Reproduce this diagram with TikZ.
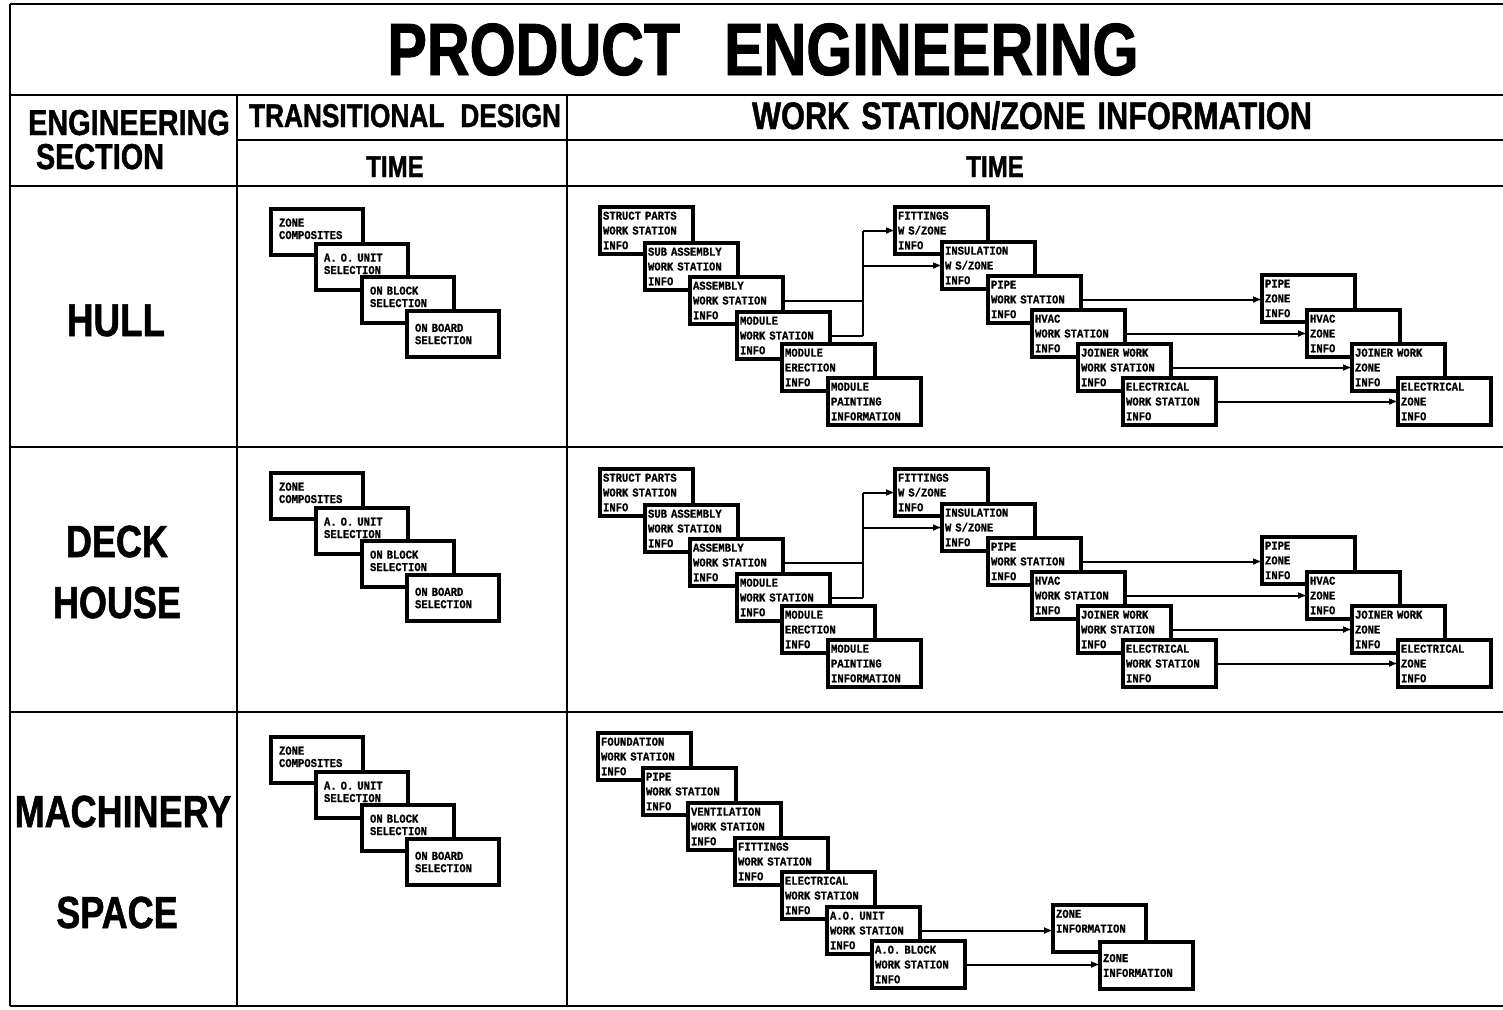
\documentclass[tikz,border=0pt]{standalone}
\usepackage{fontspec}
\setmainfont{Liberation Sans}
\newfontfamily\hdrfont[FakeStretch=0.8,FakeBold=1.2]{Liberation Sans}
\newfontfamily\boxfont[FakeStretch=0.88,FakeBold=0.6]{Liberation Mono}
\newcommand{\tbxtext}[1]{#1\\[-3pt]\mbox{}}
\usetikzlibrary{arrows.meta}
\begin{document}
\begin{tikzpicture}[x=0.5pt,y=-0.5pt,
  tline/.style={line width=1.4pt},
  hdr/.style={font=\hdrfont\bfseries, anchor=base, inner sep=0pt},
  wbox/.style={draw, line width=1.8pt, fill=white, anchor=north west, outer sep=0pt,
    minimum width=46.5pt, minimum height=23.5pt, inner xsep=1.5pt, inner ysep=1pt,
    text width=43.5pt, align=left, font=\boxfont\bfseries\fontsize{6}{7.4}\selectfont},
  tbox/.style={draw, line width=1.8pt, fill=white, anchor=north west, outer sep=0pt,
    minimum width=46pt, minimum height=23pt, inner xsep=4pt, inner ysep=1pt,
    text width=38pt, align=left, font=\boxfont\bfseries\fontsize{6}{6.2}\selectfont},
  conn/.style={line width=1pt},
  arr/.style={line width=1pt, -{Latex[length=4.5pt,width=3.5pt]}}
]
\useasboundingbox (0,0) rectangle (1503,1009);
\fill[white] (0,0) rectangle (1503,1009);

% table frame
\draw[tline] (10,4) -- (1503,4);
\draw[tline] (10,95) -- (1503,95);
\draw[tline] (237,140) -- (1503,140);
\draw[tline] (10,186) -- (1503,186);
\draw[tline] (10,447) -- (1503,447);
\draw[tline] (10,712) -- (1503,712);
\draw[tline] (10,1006) -- (1503,1006);
\draw[tline] (10,4) -- (10,1006);
\draw[tline] (237,95) -- (237,1006);
\draw[tline] (567,95) -- (567,1006);

% headings
\node[hdr, font=\hdrfont\bfseries\fontsize{37}{37}\selectfont] (title) at (763,75) {PRODUCT\hspace{22pt}ENGINEERING};
\node[hdr, font=\hdrfont\bfseries\fontsize{18}{18}\selectfont] (hEng) at (129,135) {ENGINEERING};
\node[hdr, font=\hdrfont\bfseries\fontsize{18}{18}\selectfont] (hSec) at (100,169) {SECTION};
\node[hdr, font=\hdrfont\bfseries\fontsize{16.4}{16.4}\selectfont] (hTD) at (405,127) {TRANSITIONAL\hspace{8pt}DESIGN};
\node[hdr, font=\hdrfont\bfseries\fontsize{19.2}{19.2}\selectfont] (hWS) at (1032,129) {WORK\hspace{6pt}STATION/ZONE\hspace{6pt}INFORMATION};
\node[hdr, font=\hdrfont\bfseries\fontsize{15}{15}\selectfont] (hT1) at (395,177) {TIME};
\node[hdr, font=\hdrfont\bfseries\fontsize{15}{15}\selectfont] (hT2) at (995,177) {TIME};

% row labels
\node[hdr, font=\hdrfont\bfseries\fontsize{23}{23}\selectfont] (lHull) at (116,336) {HULL};
\node[hdr, font=\hdrfont\bfseries\fontsize{22.5}{22.5}\selectfont] (lDeck) at (117,557) {DECK};
\node[hdr, font=\hdrfont\bfseries\fontsize{22.5}{22.5}\selectfont] (lHouse) at (117,618) {HOUSE};
\node[hdr, font=\hdrfont\bfseries\fontsize{22.5}{22.5}\selectfont] (lMach) at (123,827) {MACHINERY};
\node[hdr, font=\hdrfont\bfseries\fontsize{22.5}{22.5}\selectfont] (lSpace) at (117,928) {SPACE};

% ===== HULL =====
\node[tbox] (hZC) at (271,209) {\tbxtext{ZONE\\COMPOSITES}};
\node[tbox] (hAU) at (316,244) {\tbxtext{A. O. UNIT\\SELECTION}};
\node[tbox] (hOBk) at (362,277) {\tbxtext{ON BLOCK\\SELECTION}};
\node[tbox] (hOBd) at (407,311) {ON BOARD\\SELECTION};

\node[wbox] (hSP) at (600,207) {STRUCT PARTS\\WORK STATION\\INFO};
\node[wbox] (hSA) at (645,243) {SUB ASSEMBLY\\WORK STATION\\INFO};
\node[wbox] (hAS) at (690,277) {ASSEMBLY\\WORK STATION\\INFO};
\node[wbox] (hMW) at (737,312) {MODULE\\WORK STATION\\INFO};
\node[wbox] (hME) at (782,344) {MODULE\\ERECTION\\INFO};
\node[wbox] (hMP) at (828,378) {MODULE\\PAINTING\\INFORMATION};

\node[wbox] (hFI) at (895,207) {FITTINGS\\W S/ZONE\\INFO};
\node[wbox] (hIN) at (942,242) {INSULATION\\W S/ZONE\\INFO};
\node[wbox] (hPW) at (988,276) {PIPE\\WORK  STATION\\INFO};
\node[wbox] (hHW) at (1032,310) {HVAC\\WORK  STATION\\INFO};
\node[wbox] (hJW) at (1078,344) {JOINER WORK\\WORK STATION\\INFO};
\node[wbox] (hEW) at (1123,378) {ELECTRICAL\\WORK STATION\\INFO};

\node[wbox] (hPZ) at (1262,275) {PIPE\\ZONE\\INFO};
\node[wbox] (hHZ) at (1307,310) {HVAC\\ZONE\\INFO};
\node[wbox] (hJZ) at (1352,344) {JOINER WORK\\ZONE\\INFO};
\node[wbox] (hEZ) at (1398,378) {ELECTRICAL\\ZONE\\INFO};

\coordinate (hBus) at (863,300);
\draw[conn] (hAS.east) -- (hAS.east -| hBus);
\draw[conn] (hMW.east) -- (hMW.east -| hBus);
\draw[conn] (hFI.west -| hBus) -- (hMW.east -| hBus);
\draw[arr] (hFI.west -| hBus) -- (hFI.west);
\draw[arr] (hIN.west -| hBus) -- (hIN.west);
\draw[arr] (hPW.east) -- (hPW.east -| hPZ.west);
\draw[arr] (hHW.east) -- (hHW.east -| hHZ.west);
\draw[arr] (hJW.east) -- (hJW.east -| hJZ.west);
\draw[arr] (hEW.east) -- (hEW.east -| hEZ.west);

% ===== DECK HOUSE =====
\node[tbox] (dZC) at (271,473) {\tbxtext{ZONE\\COMPOSITES}};
\node[tbox] (dAU) at (316,508) {\tbxtext{A. O. UNIT\\SELECTION}};
\node[tbox] (dOBk) at (362,541) {\tbxtext{ON BLOCK\\SELECTION}};
\node[tbox] (dOBd) at (407,575) {ON BOARD\\SELECTION};

\node[wbox] (dSP) at (600,469) {STRUCT PARTS\\WORK STATION\\INFO};
\node[wbox] (dSA) at (645,505) {SUB ASSEMBLY\\WORK STATION\\INFO};
\node[wbox] (dAS) at (690,539) {ASSEMBLY\\WORK STATION\\INFO};
\node[wbox] (dMW) at (737,574) {MODULE\\WORK STATION\\INFO};
\node[wbox] (dME) at (782,606) {MODULE\\ERECTION\\INFO};
\node[wbox] (dMP) at (828,640) {MODULE\\PAINTING\\INFORMATION};

\node[wbox] (dFI) at (895,469) {FITTINGS\\W S/ZONE\\INFO};
\node[wbox] (dIN) at (942,504) {INSULATION\\W S/ZONE\\INFO};
\node[wbox] (dPW) at (988,538) {PIPE\\WORK  STATION\\INFO};
\node[wbox] (dHW) at (1032,572) {HVAC\\WORK  STATION\\INFO};
\node[wbox] (dJW) at (1078,606) {JOINER WORK\\WORK STATION\\INFO};
\node[wbox] (dEW) at (1123,640) {ELECTRICAL\\WORK STATION\\INFO};

\node[wbox] (dPZ) at (1262,537) {PIPE\\ZONE\\INFO};
\node[wbox] (dHZ) at (1307,572) {HVAC\\ZONE\\INFO};
\node[wbox] (dJZ) at (1352,606) {JOINER WORK\\ZONE\\INFO};
\node[wbox] (dEZ) at (1398,640) {ELECTRICAL\\ZONE\\INFO};

\coordinate (dBus) at (863,562);
\draw[conn] (dAS.east) -- (dAS.east -| dBus);
\draw[conn] (dMW.east) -- (dMW.east -| dBus);
\draw[conn] (dFI.west -| dBus) -- (dMW.east -| dBus);
\draw[arr] (dFI.west -| dBus) -- (dFI.west);
\draw[arr] (dIN.west -| dBus) -- (dIN.west);
\draw[arr] (dPW.east) -- (dPW.east -| dPZ.west);
\draw[arr] (dHW.east) -- (dHW.east -| dHZ.west);
\draw[arr] (dJW.east) -- (dJW.east -| dJZ.west);
\draw[arr] (dEW.east) -- (dEW.east -| dEZ.west);

% ===== MACHINERY SPACE =====
\node[tbox] (mZC) at (271,737) {\tbxtext{ZONE\\COMPOSITES}};
\node[tbox] (mAU) at (316,772) {\tbxtext{A. O. UNIT\\SELECTION}};
\node[tbox] (mOBk) at (362,805) {\tbxtext{ON BLOCK\\SELECTION}};
\node[tbox] (mOBd) at (407,839) {ON BOARD\\SELECTION};

\node[wbox] (mFO) at (598,733) {FOUNDATION\\WORK STATION\\INFO};
\node[wbox] (mPI) at (643,768) {PIPE\\WORK  STATION\\INFO};
\node[wbox] (mVE) at (688,803) {VENTILATION\\WORK STATION\\INFO};
\node[wbox] (mFI) at (735,838) {FITTINGS\\WORK STATION\\INFO};
\node[wbox] (mEL) at (782,872) {ELECTRICAL\\WORK STATION\\INFO};
\node[wbox] (mAU2) at (827,907) {A.O. UNIT\\WORK STATION\\INFO};
\node[wbox] (mAB) at (872,941) {A.O. BLOCK\\WORK STATION\\INFO};

\node[wbox] (mZ1) at (1053,905) {ZONE\\INFORMATION\\\mbox{}};
\node[wbox] (mZ2) at (1100,942) {ZONE\\INFORMATION};

\draw[arr] (mAU2.east) -- (mAU2.east -| mZ1.west);
\draw[arr] (mAB.east) -- (mAB.east -| mZ2.west);
\end{tikzpicture}
\end{document}
